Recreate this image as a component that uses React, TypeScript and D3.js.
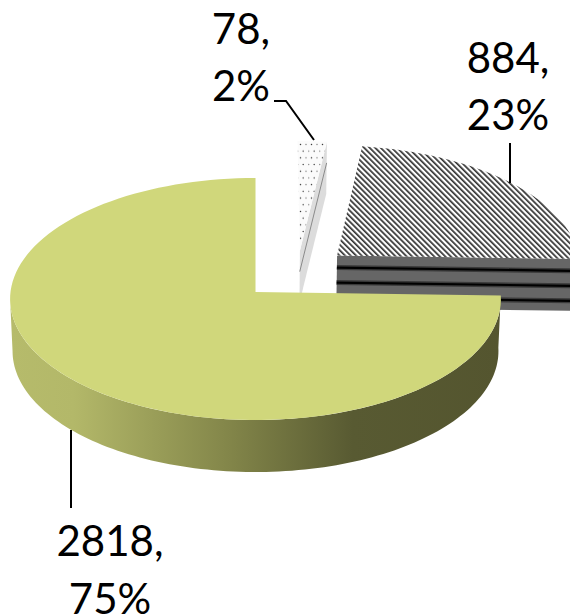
import * as d3 from "d3";
import React from "react";

const categories = ["dotted", "striped", "green"];
const values = [78, 884, 2818];
const percents = ["2%", "23%", "75%"];

const WIDTH = 570;
const HEIGHT = 616;
const CX = 255.5;
const APEX_Y = 292;
const RX = 245;
const RY = 120.6;
const PERSPECTIVE = 0.058;
const DEPTH = 52;

// how far each slice is pulled out of the pie, in disc units
const explodeX = [0.185, 0.339, 0];
const explodeY = [0.35, 0.307, 0];

type Pt = [number, number];

// disc coordinates -> screen, with a bit of perspective so the near edge is larger
const project = (X: number, Y: number, z = 0): Pt => {
  const w = 1 + PERSPECTIVE * Y;
  const shrink = 1 - (0.01 * z) / DEPTH;
  return [CX + (RX * X * shrink) / w, APEX_Y - (RY * Y) / w + z];
};

const pie = d3
  .pie<number>()
  .sort(null)
  .startAngle(0)
  .endAngle(Math.PI * 2);
const slices = pie(values);

const rim = (i: number, a: number, z = 0) =>
  project(explodeX[i] + Math.sin(a), explodeY[i] + Math.cos(a), z);
const apex = (i: number, z = 0) => project(explodeX[i], explodeY[i], z);

const line = d3.line<Pt>();
const steps = (a0: number, a1: number) =>
  d3.range(0, 121).map((k) => a0 + ((a1 - a0) * k) / 120);

const topFace = (i: number) =>
  line([
    apex(i),
    ...steps(slices[i].startAngle, slices[i].endAngle).map((a) => rim(i, a)),
  ]) + "Z";

// flat wall from the apex out to the rim at one angle
const cutWall = (i: number, a: number) =>
  line([apex(i), rim(i, a), rim(i, a, DEPTH), apex(i, DEPTH)]) + "Z";

const cutLine = (i: number, a: number, z: number) =>
  line([apex(i, z), rim(i, a, z)]) as string;

// curved wall of the big slice, only the part facing the viewer
const greenWall = () => {
  const angles = steps(
    slices[2].startAngle,
    (Math.PI * 3) / 2 - PERSPECTIVE
  );
  const area = d3
    .area<number>()
    .x0((a) => rim(2, a)[0])
    .y0((a) => rim(2, a)[1])
    .x1((a) => rim(2, a, DEPTH)[0])
    .y1((a) => rim(2, a, DEPTH)[1]);
  return area(angles) as string;
};

const wallStops = [
  { offset: "0%", color: "#b6bb6b" },
  { offset: "13%", color: "#b3b869" },
  { offset: "45%", color: "#828549" },
  { offset: "70%", color: "#585a32" },
  { offset: "100%", color: "#54552f" },
];

const stripeDepths = [12, 27, 42];
const dottedLineDepth = 21;

const FONT = "Lato, 'Open Sans', sans-serif";

const App: React.FC = () => {
  const striped = categories.indexOf("striped");
  const dotted = categories.indexOf("dotted");
  const green = categories.indexOf("green");

  return (
    <svg
      width={WIDTH}
      height={HEIGHT}
      style={{ position: "fixed", left: 0, top: 0, background: "#fff" }}
    >
      <defs>
        <pattern
          id="hatch"
          width={3.9}
          height={3.9}
          patternUnits="userSpaceOnUse"
          patternTransform="rotate(-45)"
        >
          <rect width={3.9} height={3.9} fill="#fff" />
          <rect width={1.7} height={3.9} fill="#333" />
        </pattern>
        <pattern
          id="dots"
          width={11}
          height={13.4}
          patternUnits="userSpaceOnUse"
          patternTransform="translate(299,143)"
        >
          <rect width={11} height={13.4} fill="#fbfbfb" />
          <circle cx={1.5} cy={1.5} r={0.75} fill="#333" />
          <circle cx={7} cy={1.5} r={0.7} fill="#777" />
          <circle cx={4.2} cy={8.2} r={0.75} fill="#444" />
          <circle cx={9.7} cy={8.2} r={0.7} fill="#888" />
        </pattern>
        <linearGradient
          id="wall"
          gradientUnits="userSpaceOnUse"
          x1={10}
          x2={500}
          y1={0}
          y2={0}
        >
          {wallStops.map((s) => (
            <stop key={s.offset} offset={s.offset} stopColor={s.color} />
          ))}
        </linearGradient>
      </defs>

      {/* small dotted slice */}
      <path d={cutWall(dotted, slices[dotted].endAngle)} fill="#dcdcdc" />
      <path
        d={cutLine(dotted, slices[dotted].endAngle, dottedLineDepth)}
        stroke="#8a8a8a"
        strokeWidth={1}
        fill="none"
      />
      <path d={topFace(dotted)} fill="url(#dots)" />

      {/* striped slice */}
      <path d={cutWall(striped, slices[striped].endAngle)} fill="#666" />
      {stripeDepths.map((z) => (
        <g key={z}>
          <path
            d={cutLine(striped, slices[striped].endAngle, z)}
            stroke="#3a3a3a"
            strokeWidth={5}
            fill="none"
          />
          <path
            d={cutLine(striped, slices[striped].endAngle, z)}
            stroke="#000"
            strokeWidth={2.2}
            fill="none"
          />
        </g>
      ))}
      <path d={topFace(striped)} fill="url(#hatch)" />

      {/* big slice */}
      <path d={greenWall()} fill="url(#wall)" />
      <path d={topFace(green)} fill="#d0d77b" />

      {/* leader lines */}
      <g fill="none" stroke="#000" strokeWidth={2}>
        <path d="M274,101H286L314,140" />
        <path d="M510,143V183" />
        <path d="M71,430V508" />
      </g>

      <g fontFamily={FONT} fontSize={42} fill="#000" textAnchor="middle">
        <text x={241} y={44}>
          {values[dotted]},
        </text>
        <text x={241} y={101}>
          {percents[dotted]}
        </text>
        <text x={508} y={73}>
          {values[striped]},
        </text>
        <text x={508} y={130}>
          {percents[striped]}
        </text>
        <text x={110} y={556}>
          {values[green]},
        </text>
        <text x={110} y={614}>
          {percents[green]}
        </text>
      </g>
    </svg>
  );
};

export default App;
